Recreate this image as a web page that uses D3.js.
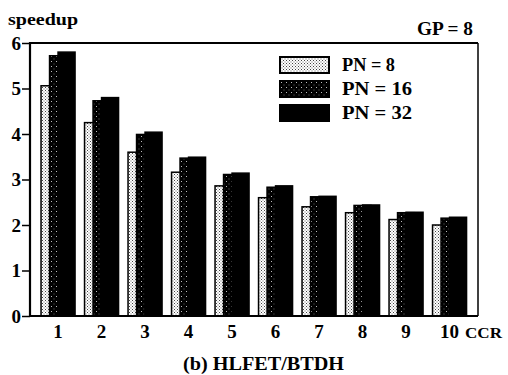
<!DOCTYPE html>
<html>
<head>
<meta charset="utf-8">
<script src="https://cdn.jsdelivr.net/npm/d3@7"></script>
<style>
  body { margin: 0; background: #fff; }
  text { font-family: "Liberation Serif", "Times New Roman", serif; font-weight: bold; fill: #000; }
</style>
</head>
<body>
<script>
// data
var ccr = ["1", "2", "3", "4", "5", "6", "7", "8", "9", "10"];
var series = ["PN = 8", "PN = 16", "PN = 32"];
var pn8  = [5.06, 4.25, 3.60, 3.16, 2.86, 2.60, 2.40, 2.27, 2.12, 2.00];
var pn16 = [5.72, 4.73, 3.99, 3.47, 3.11, 2.83, 2.62, 2.43, 2.27, 2.15];
var pn32 = [5.80, 4.80, 4.04, 3.49, 3.14, 2.86, 2.63, 2.44, 2.28, 2.17];
var yTicks = [0, 1, 2, 3, 4, 5, 6];

var values = [pn8, pn16, pn32];
var fills = ["url(#dotLight)", "url(#dotDark)", "#000"];

var svg = d3.select("body").append("svg")
    .attr("width", 508)
    .attr("height", 375);

// stipple patterns
var defs = svg.append("defs");
var light = defs.append("pattern").attr("id", "dotLight")
    .attr("patternUnits", "userSpaceOnUse").attr("width", 3).attr("height", 3);
light.append("rect").attr("width", 3).attr("height", 3).attr("fill", "#fff");
light.append("rect").attr("x", 0).attr("y", 0).attr("width", 1).attr("height", 1).attr("fill", "#444");
light.append("rect").attr("x", 1.5).attr("y", 1.5).attr("width", 1).attr("height", 1).attr("fill", "#666");

var dark = defs.append("pattern").attr("id", "dotDark")
    .attr("patternUnits", "userSpaceOnUse").attr("width", 5).attr("height", 5);
dark.append("rect").attr("width", 5).attr("height", 5).attr("fill", "#000");
dark.append("rect").attr("x", 1).attr("y", 1).attr("width", 1).attr("height", 1).attr("fill", "#bbb");
dark.append("rect").attr("x", 3.5).attr("y", 3.5).attr("width", 1).attr("height", 1).attr("fill", "#666");

var plotLeft = 30, plotRight = 478, plotTop = 43, plotBottom = 316;

var x = d3.scaleBand().domain(ccr)
    .range([36.3, 471.3])
    .paddingInner(0.218)
    .paddingOuter(0.109);

var barW = x.bandwidth() * 0.5;
var xs = d3.scalePoint().domain(series).range([0, x.bandwidth() - barW]);

var y = d3.scaleLinear().domain([0, 6]).range([plotBottom, plotTop]);

// bars, later series drawn on top
series.forEach(function(s, si) {
    svg.append("g").selectAll("rect")
        .data(values[si])
        .enter().append("rect")
        .attr("x", function(d, i) { return x(ccr[i]) + xs(s); })
        .attr("y", function(d) { return y(d); })
        .attr("width", barW)
        .attr("height", function(d) { return y(0) - y(d); })
        .attr("fill", fills[si])
        .attr("stroke", "#000")
        .attr("stroke-width", 1.5);
});

// frame
svg.append("line").attr("x1", plotLeft).attr("x2", plotRight).attr("y1", plotTop).attr("y2", plotTop)
    .attr("stroke", "#000").attr("stroke-width", 1.8);
svg.append("line").attr("x1", plotRight).attr("x2", plotRight).attr("y1", plotTop).attr("y2", plotBottom)
    .attr("stroke", "#000").attr("stroke-width", 1.5);
svg.append("line").attr("x1", plotLeft).attr("x2", plotRight).attr("y1", plotBottom).attr("y2", plotBottom)
    .attr("stroke", "#000").attr("stroke-width", 2.2);
svg.append("line").attr("x1", plotLeft).attr("x2", plotLeft).attr("y1", plotTop - 1).attr("y2", plotBottom + 1)
    .attr("stroke", "#000").attr("stroke-width", 2.2);

// y axis
var yAxis = svg.append("g")
    .attr("transform", "translate(" + plotLeft + ",0)")
    .call(d3.axisLeft(y).tickValues(yTicks).tickSize(8).tickPadding(1).tickFormat(d3.format("d")));
yAxis.select(".domain").remove();
yAxis.selectAll("line").attr("stroke-width", 1.5);
yAxis.selectAll("text")
    .style("font-family", "'Liberation Serif', serif")
    .style("font-weight", "bold")
    .style("font-size", "19px");

// x labels
svg.append("g").selectAll("text")
    .data(ccr)
    .enter().append("text")
    .attr("x", function(d) { return x(d) + x.bandwidth() / 2; })
    .attr("y", 338)
    .attr("text-anchor", "middle")
    .style("font-size", "19px")
    .text(function(d) { return d; });

svg.append("text").attr("x", 465).attr("y", 338)
    .attr("textLength", 37).attr("lengthAdjust", "spacingAndGlyphs")
    .style("font-size", "15px").text("CCR");

svg.append("text").attr("x", 8).attr("y", 25)
    .attr("textLength", 70).attr("lengthAdjust", "spacingAndGlyphs")
    .style("font-size", "17px").text("speedup");

svg.append("text").attr("x", 417).attr("y", 35)
    .attr("textLength", 56).attr("lengthAdjust", "spacingAndGlyphs")
    .style("font-size", "18px").text("GP = 8");

svg.append("text").attr("x", 183).attr("y", 370)
    .attr("textLength", 161).attr("lengthAdjust", "spacingAndGlyphs")
    .style("font-size", "18px").text("(b) HLFET/BTDH");

// legend
var legend = svg.append("g").selectAll("g")
    .data(series)
    .enter().append("g")
    .attr("transform", function(d, i) { return "translate(280," + (57 + i * 24) + ")"; });
legend.append("rect")
    .attr("width", 49).attr("height", 16)
    .attr("fill", function(d, i) { return fills[i]; })
    .attr("stroke", "#000").attr("stroke-width", 2);
legend.append("text")
    .attr("x", 62).attr("y", 14)
    .attr("textLength", function(d) { return d.length > 6 ? 70 : 53; })
    .attr("lengthAdjust", "spacingAndGlyphs")
    .style("font-size", "19px")
    .text(function(d) { return d; });
</script>
</body>
</html>
